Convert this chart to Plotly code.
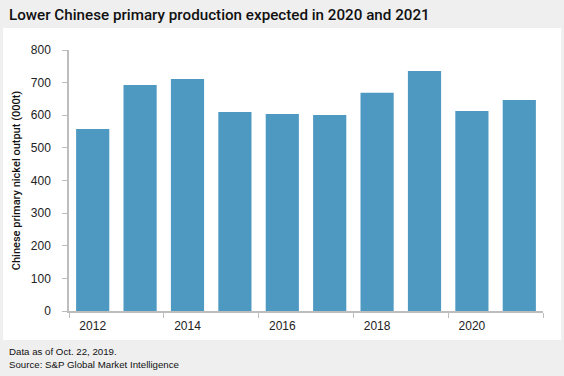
import plotly.graph_objects as go

years = [2012, 2013, 2014, 2015, 2016, 2017, 2018, 2019, 2020, 2021]
output_kt = [558, 693, 711, 610, 604, 601, 669, 736, 613, 647]
x_tick_vals = [2012, 2014, 2016, 2018, 2020]
y_tick_vals = [0, 100, 200, 300, 400, 500, 600, 700, 800]

title_text = "Lower Chinese primary production expected in 2020 and 2021"
y_title = "Chinese primary nickel output (000t)"
footnote = "Data as of Oct. 22, 2019.<br>Source: S&P Global Market Intelligence"

L, R, T, B = 69, 21, 50, 65
W, H = 564, 376
pw, ph = W - L - R, H - T - B

fig = go.Figure(go.Bar(
    x=years, y=output_kt, width=0.7,
    marker=dict(color="#4e99c2", line=dict(width=0)),
))

axis_font = dict(family="Liberation Sans, Arial, sans-serif", size=12, color="#222")

fig.update_layout(
    width=W, height=H,
    margin=dict(l=L, r=R, t=T, b=B, autoexpand=False),
    paper_bgcolor="#efefef",
    plot_bgcolor="white",
    showlegend=False,
    bargap=0.3,
    xaxis=dict(
        range=[2011.5, 2021.5], automargin=False,
        tickmode="array", tickvals=x_tick_vals,
        ticks="", showgrid=False, zeroline=False,
        showline=True, linecolor="#bdbdbd", linewidth=1.5,
        tickfont=axis_font, ticklabelstandoff=3,
        minor=dict(tickmode="array", tickvals=[2011.5, 2013.5, 2015.5, 2017.5, 2019.5, 2021.5],
                   ticks="outside", ticklen=5, tickcolor="#bdbdbd", tickwidth=1, showgrid=False),
        fixedrange=True,
    ),
    yaxis=dict(
        range=[0, 800], automargin=False,
        tickmode="array", tickvals=y_tick_vals,
        ticks="outside", ticklen=5, tickcolor="#bdbdbd",
        showgrid=False, zeroline=False,
        showline=True, linecolor="#bdbdbd", linewidth=1.5,
        tickfont=axis_font, ticklabelstandoff=9,
        title=dict(text=y_title,
                   font=dict(family="Roboto, Liberation Sans, sans-serif", size=11, color="#111", weight=500),
                   standoff=8),
        fixedrange=True,
    ),
    shapes=[dict(
        type="rect", xref="paper", yref="paper", layer="below",
        x0=(3 - L) / pw, x1=(561 - L) / pw,
        y0=(H - B - 340) / ph, y1=(H - B - 28) / ph,
        fillcolor="white", line=dict(width=0),
    )],
    annotations=[
        dict(text=title_text, xref="paper", yref="paper",
             x=(7 - L) / pw, y=(H - B - 15) / ph, xanchor="left", yanchor="middle",
             showarrow=False,
             font=dict(family="Roboto, Liberation Sans, sans-serif", size=15.2, color="#111", weight=500)),
        dict(text=footnote, xref="paper", yref="paper",
             x=(7 - L) / pw, y=(H - B - 358) / ph, xanchor="left", yanchor="middle",
             showarrow=False, align="left",
             font=dict(family="Liberation Sans, Arial, sans-serif", size=9.7, color="#111")),
    ],
)

fig.write_html("out.html", config={"displayModeBar": False},
               post_script="document.body.style.margin='0';")
